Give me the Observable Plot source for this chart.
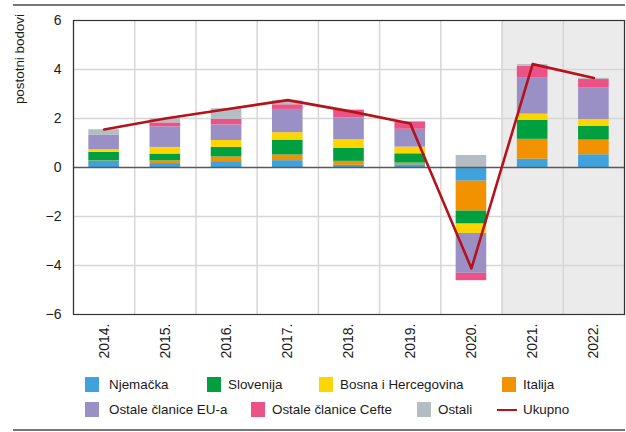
<!DOCTYPE html>
<html>
<head>
<meta charset="utf-8">
<script src="https://cdn.jsdelivr.net/npm/d3@7"></script>
<script src="https://cdn.jsdelivr.net/npm/@observablehq/plot@0.6"></script>
<style>
  html, body { margin: 0; padding: 0; background: #fff; }
  body { width: 626px; height: 432px; position: relative; overflow: hidden;
         font-family: "Liberation Sans", Arial, sans-serif; color: #1a1a1a; }
  #chart { position: absolute; left: 0; top: 0; }
  .rule { position: absolute; left: 13px; width: 612px; height: 0; border-top: 2px solid #777; }
  #ylabel { position: absolute; left: 16px; top: 14px; transform-origin: 0 0; line-height: 15px;
            transform: translate(-4px, 0) rotate(-90deg) translate(-100%, 0); font-size: 13.4px; white-space: nowrap; }
  .leg { position: absolute; font-size: 13.4px; line-height: 16px; white-space: nowrap; }
  .sw { position: absolute; width: 14px; height: 15px; }
  .ln { position: absolute; width: 20px; height: 0; border-top: 2.5px solid #b5121b; }
</style>
</head>
<body>
<div class="rule" style="top:4px"></div>
<div id="ylabel">postotni bodovi</div>
<div id="chart"></div>
<div id="legend"></div>
<div class="rule" style="top:429px"></div>
<script>
const years = [2014, 2015, 2016, 2017, 2018, 2019, 2020, 2021, 2022];
const seriesNames = ["Njemačka", "Italija", "Slovenija", "Bosna i Hercegovina", "Ostale članice EU-a", "Ostale članice Cefte", "Ostali"];
const seriesColors = ["#3fa2dd", "#f39200", "#00a040", "#ffd500", "#9b90c5", "#eb5386", "#b4bcc4"];
const njemacka  = [0.26, 0.16, 0.24, 0.28, 0.09, 0.11, -0.56, 0.34, 0.52];
const italija   = [0.01, 0.11, 0.19, 0.23, 0.16, 0.07, -1.22, 0.81, 0.60];
const slovenija = [0.35, 0.28, 0.39, 0.61, 0.54, 0.38, -0.53, 0.77, 0.56];
const bih       = [0.11, 0.27, 0.28, 0.30, 0.35, 0.27, -0.38, 0.26, 0.28];
const ostaleEU  = [0.58, 0.84, 0.64, 0.95, 0.89, 0.73, -1.63, 1.49, 1.30];
const cefta     = [0.00, 0.16, 0.23, 0.19, 0.30, 0.30, -0.30, 0.46, 0.33];
const ostali    = [0.23, 0.18, 0.43, 0.16, 0.02, 0.02, 0.49, 0.07, 0.05];
const ukupno    = [1.55, 2.00, 2.38, 2.75, 2.30, 1.80, -4.12, 4.22, 3.65];
const yTicks = [-6, -4, -2, 0, 2, 4, 6];
const forecastYears = [2021, 2022];

const seriesValues = [njemacka, italija, slovenija, bih, ostaleEU, cefta, ostali];
const rows = [];
seriesNames.forEach((s, i) => years.forEach((y, j) => rows.push({year: y, series: s, value: seriesValues[i][j]})));
const lineData = years.map((y, j) => ({year: y, value: ukupno[j]}));
const bounds = d3.range(years[0] - 0.5, years[years.length - 1] + 1, 1);

const plot = Plot.plot({
  width: 626,
  height: 372,
  marginLeft: 73,
  marginRight: 2,
  marginTop: 20,
  marginBottom: 58,
  style: {fontSize: "14px", fontFamily: '"Liberation Sans", Arial, sans-serif', color: "#1a1a1a", background: "transparent"},
  x: {type: "linear", domain: [years[0] - 0.5, years[years.length - 1] + 0.5]},
  y: {domain: [-6, 6]},
  color: {domain: seriesNames, range: seriesColors},
  marks: [
    Plot.rect([forecastYears], {x1: d => d[0] - 0.5, x2: d => d[d.length - 1] + 0.5, y1: -6, y2: 6, fill: "#ebebeb"}),
    Plot.ruleX(bounds, {stroke: "#d6d6d6", strokeWidth: 1.5}),
    Plot.ruleY(yTicks.filter(t => t !== 0 && Math.abs(t) !== 6), {stroke: "#d6d6d6", strokeWidth: 1.5}),
    Plot.rectY(rows, {x1: d => d.year - 0.25, x2: d => d.year + 0.25, y: "value", fill: "series"}),
    Plot.ruleY([0], {stroke: "#5a5a5a", strokeWidth: 1.6}),
    Plot.line(lineData, {x: "year", y: "value", stroke: "#b5121b", strokeWidth: 2.6}),
    Plot.frame({stroke: "#333", strokeWidth: 1.2}),
    Plot.axisY({ticks: yTicks, tickSize: 0, tickPadding: 12, label: null}),
    Plot.axisX({ticks: years, tickSize: 0, tickPadding: 9, tickRotate: -90, tickFormat: d => d + ".", label: null})
  ]
});
document.getElementById("chart").appendChild(plot);

const legendItems = [
  {name: "Njemačka", sx: 85, tx: 109, row: 0},
  {name: "Slovenija", sx: 207, tx: 228, row: 0},
  {name: "Bosna i Hercegovina", sx: 319, tx: 340, row: 0},
  {name: "Italija", sx: 502, tx: 523, row: 0},
  {name: "Ostale članice EU-a", sx: 85, tx: 109, row: 1},
  {name: "Ostale članice Cefte", sx: 251, tx: 272, row: 1},
  {name: "Ostali", sx: 417, tx: 438, row: 1},
  {name: "Ukupno", sx: 497, tx: 523, row: 1, line: true}
];
const leg = document.getElementById("legend");
const color = plot.scale("color");
legendItems.forEach(it => {
  const cy = it.row === 0 ? 385 : 410;
  const s = document.createElement("div");
  if (it.line) {
    s.className = "ln";
    s.style.left = it.sx + "px"; s.style.top = (cy - 1) + "px";
  } else {
    s.className = "sw";
    s.style.left = it.sx + "px"; s.style.top = (cy - 8) + "px";
    s.style.background = color.apply(it.name);
  }
  leg.appendChild(s);
  const t = document.createElement("div");
  t.className = "leg";
  t.textContent = it.name;
  t.style.left = it.tx + "px"; t.style.top = (cy - 8) + "px";
  leg.appendChild(t);
});
</script>
</body>
</html>
